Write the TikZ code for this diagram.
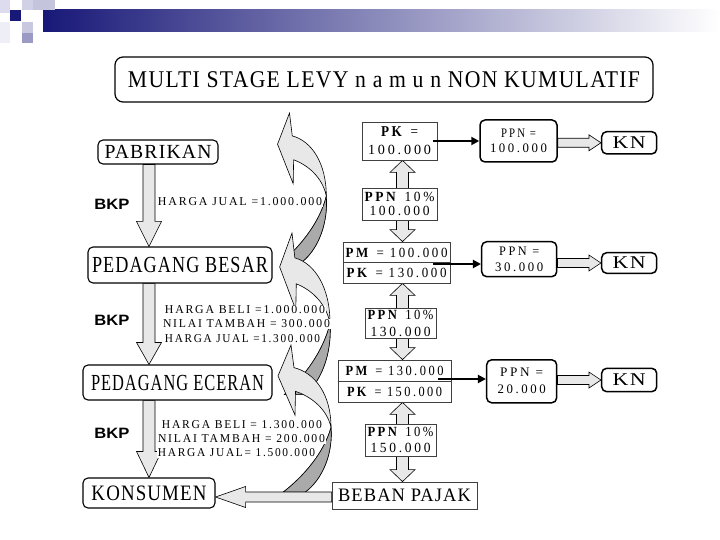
\documentclass[tikz,border=0pt]{standalone}
\usepackage{fontspec}
\setmainfont{Liberation Serif}
\newfontfamily\tfont{Liberation Serif}[LetterSpace=6]
\newfontfamily\mfont{Liberation Serif}[LetterSpace=20]
\newfontfamily\lfont{Liberation Serif}[LetterSpace=15]
\newfontfamily\sfont{Liberation Sans}
\usepackage{graphicx}
\usetikzlibrary{calc,arrows.meta}
\pgfdeclarelayer{bg}
\pgfsetlayers{bg,main}
\definecolor{navy}{RGB}{24,24,120}
\definecolor{arrfill}{RGB}{232,232,232}
\definecolor{arrdark}{RGB}{170,170,170}
\newcommand\tx[3]{\resizebox{#1pt}{\height}{\fontsize{#2}{#2}\selectfont #3}}
\tikzset{
  lbox/.style={draw, line width=1.1pt, rounded corners=5pt, fill=white, inner sep=0pt, font=\tfont},
  mbox/.style={draw=black!75, line width=0.8pt, fill=white, inner sep=0pt, align=center},
  pbox/.style={draw, line width=1.5pt, rounded corners=5pt, fill=white, inner sep=0pt, align=center},
  blk/.style={draw, line width=0.6pt, fill=arrfill},
  cfront/.style={draw, line width=0.6pt, fill=arrfill},
  cback/.style={draw, line width=0.6pt, fill=arrdark},
  lab/.style={fill=white, inner sep=0.8pt, font=\lfont},
  bkp/.style={inner sep=0pt, font=\sfont\bfseries},
  barrow/.style={line width=2pt, -{Triangle[length=8pt,width=8pt]}}
}
\newcommand\vdown[4]{%
 \path[blk] let \p1=(#1), \p2=(#2) in
 ({#3pt-6pt},\y1) -- ({#3pt+6pt},\y1) -- ({#3pt+6pt},{\y2+#4pt}) -- ({#3pt+12.5pt},{\y2+#4pt}) -- ({#3pt},\y2) -- ({#3pt-12.5pt},{\y2+#4pt}) -- ({#3pt-6pt},{\y2+#4pt}) -- cycle;}
\newcommand\dblock[3]{%
 \path[blk] let \p1=(#1), \p2=(#2) in
 ({#3pt},\y1) -- ({#3pt+12.5pt},{\y1-12pt}) -- ({#3pt+6pt},{\y1-12pt}) -- ({#3pt+6pt},{\y2+12pt}) -- ({#3pt+12.5pt},{\y2+12pt}) -- ({#3pt},\y2) -- ({#3pt-12.5pt},{\y2+12pt}) -- ({#3pt-6pt},{\y2+12pt}) -- ({#3pt-6pt},{\y1-12pt}) -- ({#3pt-12.5pt},{\y1-12pt}) -- cycle;}
\newcommand\hright[2]{%
 \path[blk] let \p1=(#1), \p2=(#2) in
 (\x1,{\y2+4.5pt}) -- ({\x2-12pt},{\y2+4.5pt}) -- ({\x2-12pt},{\y2+8pt}) -- (\x2,\y2) -- ({\x2-12pt},{\y2-8pt}) -- ({\x2-12pt},{\y2-4.5pt}) -- (\x1,{\y2-4.5pt}) -- cycle;}
\newcommand\hleft[3]{%
 \path[blk] let \p1=(#1), \p2=(#2) in
 (\x1,{-#3pt+5pt}) -- ({\x2+30pt},{-#3pt+5pt}) -- ({\x2+30pt},{-#3pt+10.5pt}) -- (\x2,{-#3pt}) -- ({\x2+30pt},{-#3pt-10.5pt}) -- ({\x2+30pt},{-#3pt-5pt}) -- (\x1,{-#3pt-5pt}) -- cycle;}
% curved arrow: tip x, tip y, xscale, yscale
\newcommand\curvarr[4]{%
 \begin{scope}[shift={(#1,#2)}, xscale=#3, yscale=#4]
  \path[cfront] (0,0) -- (-13,30) -- (4,68) -- (4.5,45)
    .. controls (20,50) and (36,62) .. (40,80)
    .. controls (33,105) and (12,128) .. (-8,143) -- (14,143)
    .. controls (32,130) and (42,105) .. (40,80)
    .. controls (40,48) and (24,27) .. (3,22) -- cycle;
  \path[cback] (40,80) .. controls (33,105) and (12,128) .. (-8,143) -- (14,143)
    .. controls (32,130) and (42,105) .. (40,80) -- cycle;
 \end{scope}}
\begin{document}
\begin{tikzpicture}[x=1pt,y=-1pt]
\useasboundingbox (0,0) rectangle (720,540);
\begin{pgfonlayer}{bg}
\fill[white] (0,0) rectangle (720,540);
\end{pgfonlayer}
% header
\shade[left color=navy, right color=white] (43,10) rectangle (720,32);
\fill[fill={rgb,255:red,220;green,220;blue,238}] (0,0) rectangle (10,13);
\fill[navy] (10,10) rectangle (21,21);
\fill[fill={rgb,255:red,208;green,208;blue,230}] (22,0) rectangle (33,10);
\fill[fill={rgb,255:red,196;green,196;blue,220}] (33,0) rectangle (55,10);
\fill[fill={rgb,255:red,200;green,200;blue,224}] (22,22) rectangle (33,33);
\fill[fill={rgb,255:red,154;green,154;blue,196}] (22,33) rectangle (33,43);
\fill[fill={rgb,255:red,238;green,238;blue,246}] (0,22) rectangle (10,43);
% title
\node[lbox, rounded corners=8pt, line width=1.2pt, minimum width=538, minimum height=45] (title) at (384,79.5) {\tx{512}{24}{MULTI STAGE LEVY n a m u n NON KUMULATIF}};
% left column
\node[lbox, minimum width=120, minimum height=24] (pab) at (158,152) {\tx{107}{20}{PABRIKAN}};
\node[lbox, minimum width=184, minimum height=36] (besar) at (180,265) {\tx{176}{23}{PEDAGANG BESAR}};
\node[lbox, minimum width=189, minimum height=35] (ecer) at (177.5,382.5) {\tx{173}{23}{PEDAGANG ECERAN}};
\node[lbox, minimum width=132, minimum height=30] (kons) at (149,493) {\tx{115}{22}{KONSUMEN}};
\node[bkp] (bkp1) at (112,204) {\tx{35}{15}{BKP}};
\node[bkp] (bkp2) at (112,320) {\tx{35}{15}{BKP}};
\node[bkp] (bkp3) at (112,433) {\tx{35}{15}{BKP}};
% middle column
\node[mbox, minimum width=75, minimum height=38, font=\mfont\fontsize{14}{18}\selectfont] (pkA) at (399.5,141) {\tx{37}{15}{\textbf{PK} =}\\\tx{63}{14}{100.000}};
\node[mbox, minimum width=75, minimum height=32, font=\mfont\fontsize{14}{14}\selectfont] (lbl1) at (399.5,204) {\tx{70}{14}{\textbf{PPN} 10\%}\\\tx{60}{14}{100.000}};
\node[mbox, minimum width=107, minimum height=41, font=\mfont\fontsize{14}{20}\selectfont] (pmB) at (396.5,262.5) {\tx{102}{14}{\textbf{PM} = 100.000}\\\tx{100}{14}{\textbf{PK} = 130.000}};
\node[mbox, minimum width=71, minimum height=30, font=\mfont\fontsize{14}{16.7}\selectfont] (lbl2) at (400.5,323.3) {\tx{66}{14}{\textbf{PPN} 10\%}\\\tx{60}{14}{130.000}};
\node[mbox, minimum width=113, minimum height=42, font=\mfont\fontsize{14}{21}\selectfont] (pmC) at (394.5,381) {\tx{98}{14}{\textbf{PM} = 130.000}\\\tx{95}{14}{\textbf{PK} = 150.000}};
\node[mbox, minimum width=71, minimum height=32, font=\mfont\fontsize{14}{16.7}\selectfont] (lbl3) at (400.5,440) {\tx{66}{14}{\textbf{PPN} 10\%}\\\tx{60}{14}{150.000}};
\node[mbox, minimum width=145, minimum height=27, font=\tfont] (beban) at (404.5,495.5) {\tx{133}{19}{BEBAN PAJAK}};
\draw[black!75, line width=0.8pt] (pmB.west) -- (pmB.east);
\draw[black!75, line width=0.8pt] (pmC.west) -- (pmC.east);
% right column
\node[pbox, minimum width=77, minimum height=42, font=\mfont\fontsize{13}{15}\selectfont] (ppn1) at (518.5,141) {\tx{35}{13}{PPN =}\\\tx{57}{13}{100.000}};
\node[pbox, minimum width=75, minimum height=35, font=\mfont\fontsize{13}{16.7}\selectfont] (ppn2) at (519.2,259.2) {\tx{40}{13}{PPN =}\\\tx{48}{13}{30.000}};
\node[pbox, minimum width=70, minimum height=43, font=\mfont\fontsize{13}{17}\selectfont] (ppn3) at (521.7,381.3) {\tx{43}{13}{PPN =}\\\tx{48}{13}{20.000}};
\node[pbox, minimum width=55, minimum height=22.3, font=\tfont] (kn1) at (629.2,142.8) {\tx{33}{18}{KN}};
\node[pbox, minimum width=55, minimum height=20.6, font=\tfont] (kn2) at (629.2,263) {\tx{33}{18}{KN}};
\node[pbox, minimum width=55, minimum height=23.4, font=\tfont] (kn3) at (629.2,380) {\tx{33}{18}{KN}};
% labels on the left
\node[lab] (la) at (240,202) {\tx{164}{12}{HARGA JUAL =1.000.000}};
\node[lab] (lb1) at (245,310) {\tx{160}{12}{HARGA BELI =1.000.000}};
\node[lab] (lb2) at (246.5,324) {\tx{167}{12}{NILAI TAMBAH = 300.000}};
\node[lab] (lb3) at (242.5,339) {\tx{155}{12}{HARGA JUAL =1.300.000}};
\node[lab] (lc1) at (242,425) {\tx{160}{12}{HARGA BELI = 1.300.000}};
\node[lab] (lc2) at (241.5,439) {\tx{167}{12}{NILAI TAMBAH = 200.000}};
\node[lab] (lc3) at (236.5,453) {\tx{157}{12}{HARGA JUAL= 1.500.000}};
% connectors
\begin{pgfonlayer}{bg}
\vdown{pab.south}{besar.north}{149}{25}
\vdown{besar.south}{ecer.north}{149}{22}
\vdown{ecer.south}{kons.north}{149}{26}
\dblock{pkA.south}{pmB.north}{402.5}
\dblock{pmB.south}{pmC.north}{402.5}
\dblock{pmC.south}{beban.north}{402.5}
\hright{ppn1.east}{kn1.west}
\hright{ppn2.east}{kn2.west}
\hright{ppn3.east}{kn3.west}
\curvarr{289.5}{113}{0.92}{1.04}
\curvarr{292}{233}{0.95}{1.13}
\curvarr{291}{345}{1.0}{1.03}
\hleft{beban.west}{kons.east}{497}
\end{pgfonlayer}
\coordinate (s1) at (433,141);
\coordinate (s2) at (433,264);
\coordinate (s3) at (438,379);
\draw[barrow] (s1) -- (s1 -| ppn1.west);
\draw[barrow] (s2) -- (s2 -| ppn2.west);
\draw[barrow] (s3) -- (s3 -| ppn3.west);
\end{tikzpicture}
\end{document}
